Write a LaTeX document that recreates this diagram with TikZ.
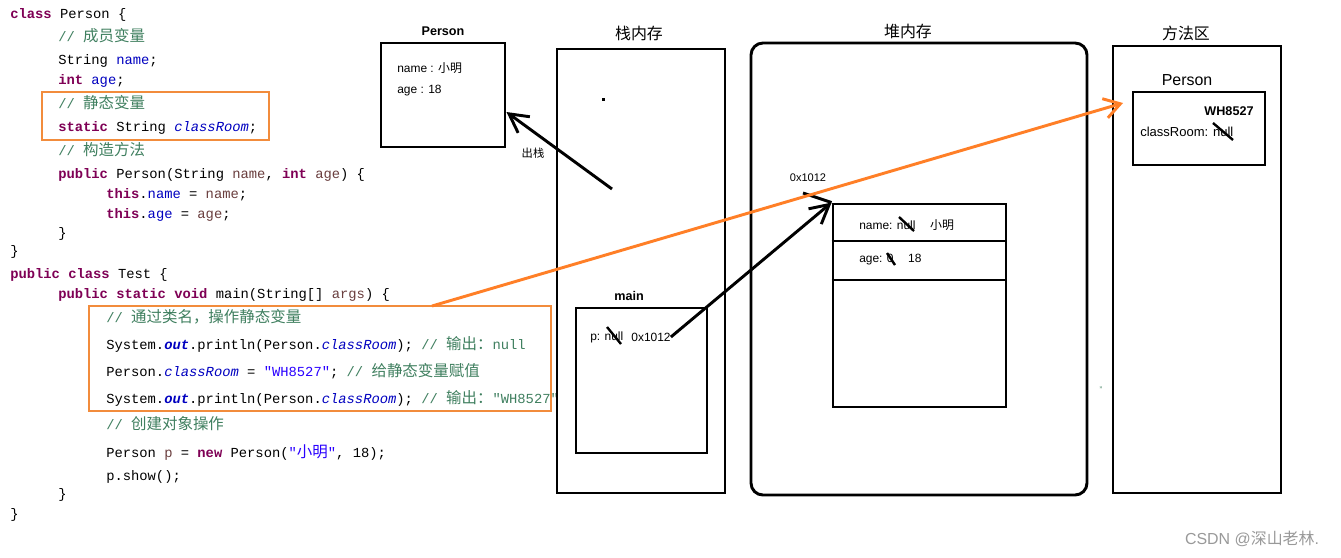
\documentclass[tikz,border=0pt]{standalone}
\usepackage{fontspec}
\setmainfont{Liberation Sans}
\setmonofont{Liberation Mono}
\newfontfamily\zh{Noto Sans CJK SC}
\newfontfamily\zhc{Noto Sans CJK SC}[Scale=1.12]
\usetikzlibrary{arrows.meta, positioning, fit}

\definecolor{kwc}{RGB}{127,0,85}
\definecolor{cmc}{RGB}{63,127,95}
\definecolor{fdc}{RGB}{0,0,192}
\definecolor{pac}{RGB}{106,62,62}
\definecolor{stc}{RGB}{42,0,255}
\definecolor{orl}{RGB}{255,127,39}
\definecolor{orb}{RGB}{242,140,60}

% code colouring
\newcommand\kwd[1]{\textcolor{kwc}{\bfseries #1}}
\newcommand\cmt[1]{\textcolor{cmc}{#1}}
\newcommand\fld[1]{\textcolor{fdc}{#1}}
\newcommand\sfld[1]{\textcolor{fdc}{\itshape #1}}
\newcommand\ofld[1]{\textcolor{fdc}{\bfseries\itshape #1}}
\newcommand\prm[1]{\textcolor{pac}{#1}}
\newcommand\strv[1]{\textcolor{stc}{#1}}
\newcommand\zhcode[1]{{\zhc #1}}
\newcommand\cn[1]{{\zh #1}}

\begin{document}
\begin{tikzpicture}[
    x=0.02646cm, y=-0.02646cm,
    box/.style={draw, line width=2.2pt, inner sep=0pt},
    thk/.style={line width=2.2pt},
    strike/.style={line width=1.8pt},
    arr/.style={line width=2.2pt, -{Straight Barb[length=14pt, width=15pt]}},
    oarr/.style={draw=orl, line width=2.2pt, -{Straight Barb[length=12pt, width=15pt]}},
    codebox/.style={draw=orb, line width=0.8pt, inner sep=0pt},
    ttl/.style={font=\zh\fontsize{12pt}{14pt}\selectfont},
    bttl/.style={font=\bfseries\fontsize{9.5pt}{11pt}\selectfont},
    lbl/.style={anchor=west, inner sep=0pt, font=\fontsize{9pt}{11pt}\selectfont},
    code/.style={anchor=base west, inner sep=0pt,
                 font=\ttfamily\fontsize{10.4pt}{12pt}\selectfont}
  ]
  \fill[white] (0,0) rectangle (1341,557);
  \useasboundingbox (0,0) rectangle (1341,557);

  % source code
  \node[code] (l1) at (10,18) {\kwd{class} Person \{};
  \node[code] (l2) at (58,41) {\cmt{// \zhcode{成员变量}}};
  \node[code] (l3) at (58,64) {String \fld{name};};
  \node[code] (l4) at (58,84) {\kwd{int} \fld{age};};
  \node[code] (l5) at (58,108) {\cmt{// \zhcode{静态变量}}};
  \node[code] (l6) at (58,131) {\kwd{static} String \sfld{classRoom};};
  \node[code] (l7) at (58,155) {\cmt{// \zhcode{构造方法}}};
  \node[code] (l8) at (58,178) {\kwd{public} Person(String \prm{name}, \kwd{int} \prm{age}) \{};
  \node[code] (l9) at (106,198) {\kwd{this}.\fld{name} = \prm{name};};
  \node[code] (l10) at (106,218) {\kwd{this}.\fld{age} = \prm{age};};
  \node[code] (l11) at (58,237) {\}};
  \node[code] (l12) at (10,255) {\}};
  \node[code] (l13) at (10,278) {\kwd{public class} Test \{};
  \node[code] (l14) at (58,298) {\kwd{public static void} main(String[] \prm{args}) \{};
  \node[code] (l15) at (106,322) {\cmt{// \zhcode{通过类名，操作静态变量}}};
  \node[code] (l16) at (106,349) {System.\ofld{out}.println(Person.\sfld{classRoom}); \cmt{// \zhcode{输出：}null}};
  \node[code] (l17) at (106,376) {Person.\sfld{classRoom} = \strv{"WH8527"}; \cmt{// \zhcode{给静态变量赋值}}};
  \node[code] (l18) at (106,403) {System.\ofld{out}.println(Person.\sfld{classRoom}); \cmt{// \zhcode{输出：}"WH8527"}};
  \node[code] (l19) at (106,429) {\cmt{// \zhcode{创建对象操作}}};
  \node[code] (l20) at (106,457) {Person \prm{p} = \kwd{new} Person(\strv{"\zhcode{小明}"}, 18);};
  \node[code] (l21) at (106,480) {p.show();};
  \node[code] (l22) at (58,498) {\}};
  \node[code] (l23) at (10,518) {\}};

  \node[codebox, fit={(42,92) (269,140)}] (sbox) {};
  \node[codebox, fit={(89,306) (551,411)}] (mbox) {};

  % object popped from the stack
  \node[bttl] (pT) at (443,31) {Person};
  \node[box, fit={(381,43) (505,147)}] (pbox) {};
  \node[lbl] (pname) at (397,68) {name : \cn{小明}};
  \node[lbl] (page) at (397,91) {age : 18};

  % stack
  \node[ttl] (stT) at (639,33) {栈内存};
  \node[box, fit={(557,49) (725,493)}] (stack) {};
  \fill (601.5,97.5) rectangle (604.5,100.5);
  \coordinate (pop) at (612,189);
  \draw[arr] (pop) -- (pbox.-15);
  \node[font=\zh\fontsize{8.5pt}{10pt}\selectfont, inner sep=0pt] (popT) at (533,153) {出栈};

  \node[bttl] (mainT) at (629,296) {main};
  \node[box, fit={(576,308) (707,453)}] (mainf) {};
  \node[lbl] (pvar) at (590,337) {p: null};
  \node[lbl, anchor=center] (pval) at (651,337) {0x1012};
  \draw[strike] (607,327) -- (621,344);

  % heap
  \node[ttl] (hpT) at (908,31) {堆内存};
  \node[box, rounded corners=9pt, fit={(751,43) (1087,495)}] (heap) {};
  \node[lbl, anchor=center, font=\fontsize{8.3pt}{10pt}\selectfont] (haddr) at (808,178) {0x1012};
  \node[box, fit={(833,204) (1006,407)}] (obj) {};
  \coordinate (d1) at (0,241);
  \coordinate (d2) at (0,280);
  \draw[thk] (obj.west |- d1) -- (obj.east |- d1);
  \draw[thk] (obj.west |- d2) -- (obj.east |- d2);
  \node[lbl] (oname) at (859,225) {name: null\hspace{11pt}\cn{小明}};
  \node[lbl] (oage) at (859,260) {age: 0\hspace{11pt}18};
  \draw[strike] (899,217) -- (914,231);
  \draw[strike] (887,253) -- (895,265);
  \coordinate (hlead) at (803,193);
  \draw[thk] (hlead) -- (obj.north west);
  \draw[arr] (pval.east) -- (obj.north west);
  \node[font=\fontsize{6pt}{6pt}\selectfont, text=cmc, inner sep=0pt] (tick) at (1101,390) {”};

  % method area
  \node[ttl] (maT) at (1186,33) {方法区};
  \node[box, fit={(1113,46) (1281,493)}] (marea) {};
  \node[font=\fontsize{12pt}{14pt}\selectfont] (clsT) at (1187,80) {Person};
  \node[box, fit={(1133,92) (1265,165)}] (cls) {};
  \node[bttl] (wh) at (1229,111) {WH8527};
  \node[lbl, font=\fontsize{9.8pt}{11pt}\selectfont] (croom) at (1140,132) {classRoom: null};
  \draw[strike] (1213,123) -- (1233,140);

  \coordinate (ostart) at (432,306);
  \coordinate (oend) at (1123,103);
  \draw[oarr] (ostart) -- (oend);

  \node[font=\fontsize{12pt}{14pt}\selectfont, text=gray!80, inner sep=0pt] (wm) at (1252,539) {CSDN @\cn{深山老林}.};
\end{tikzpicture}
\end{document}
